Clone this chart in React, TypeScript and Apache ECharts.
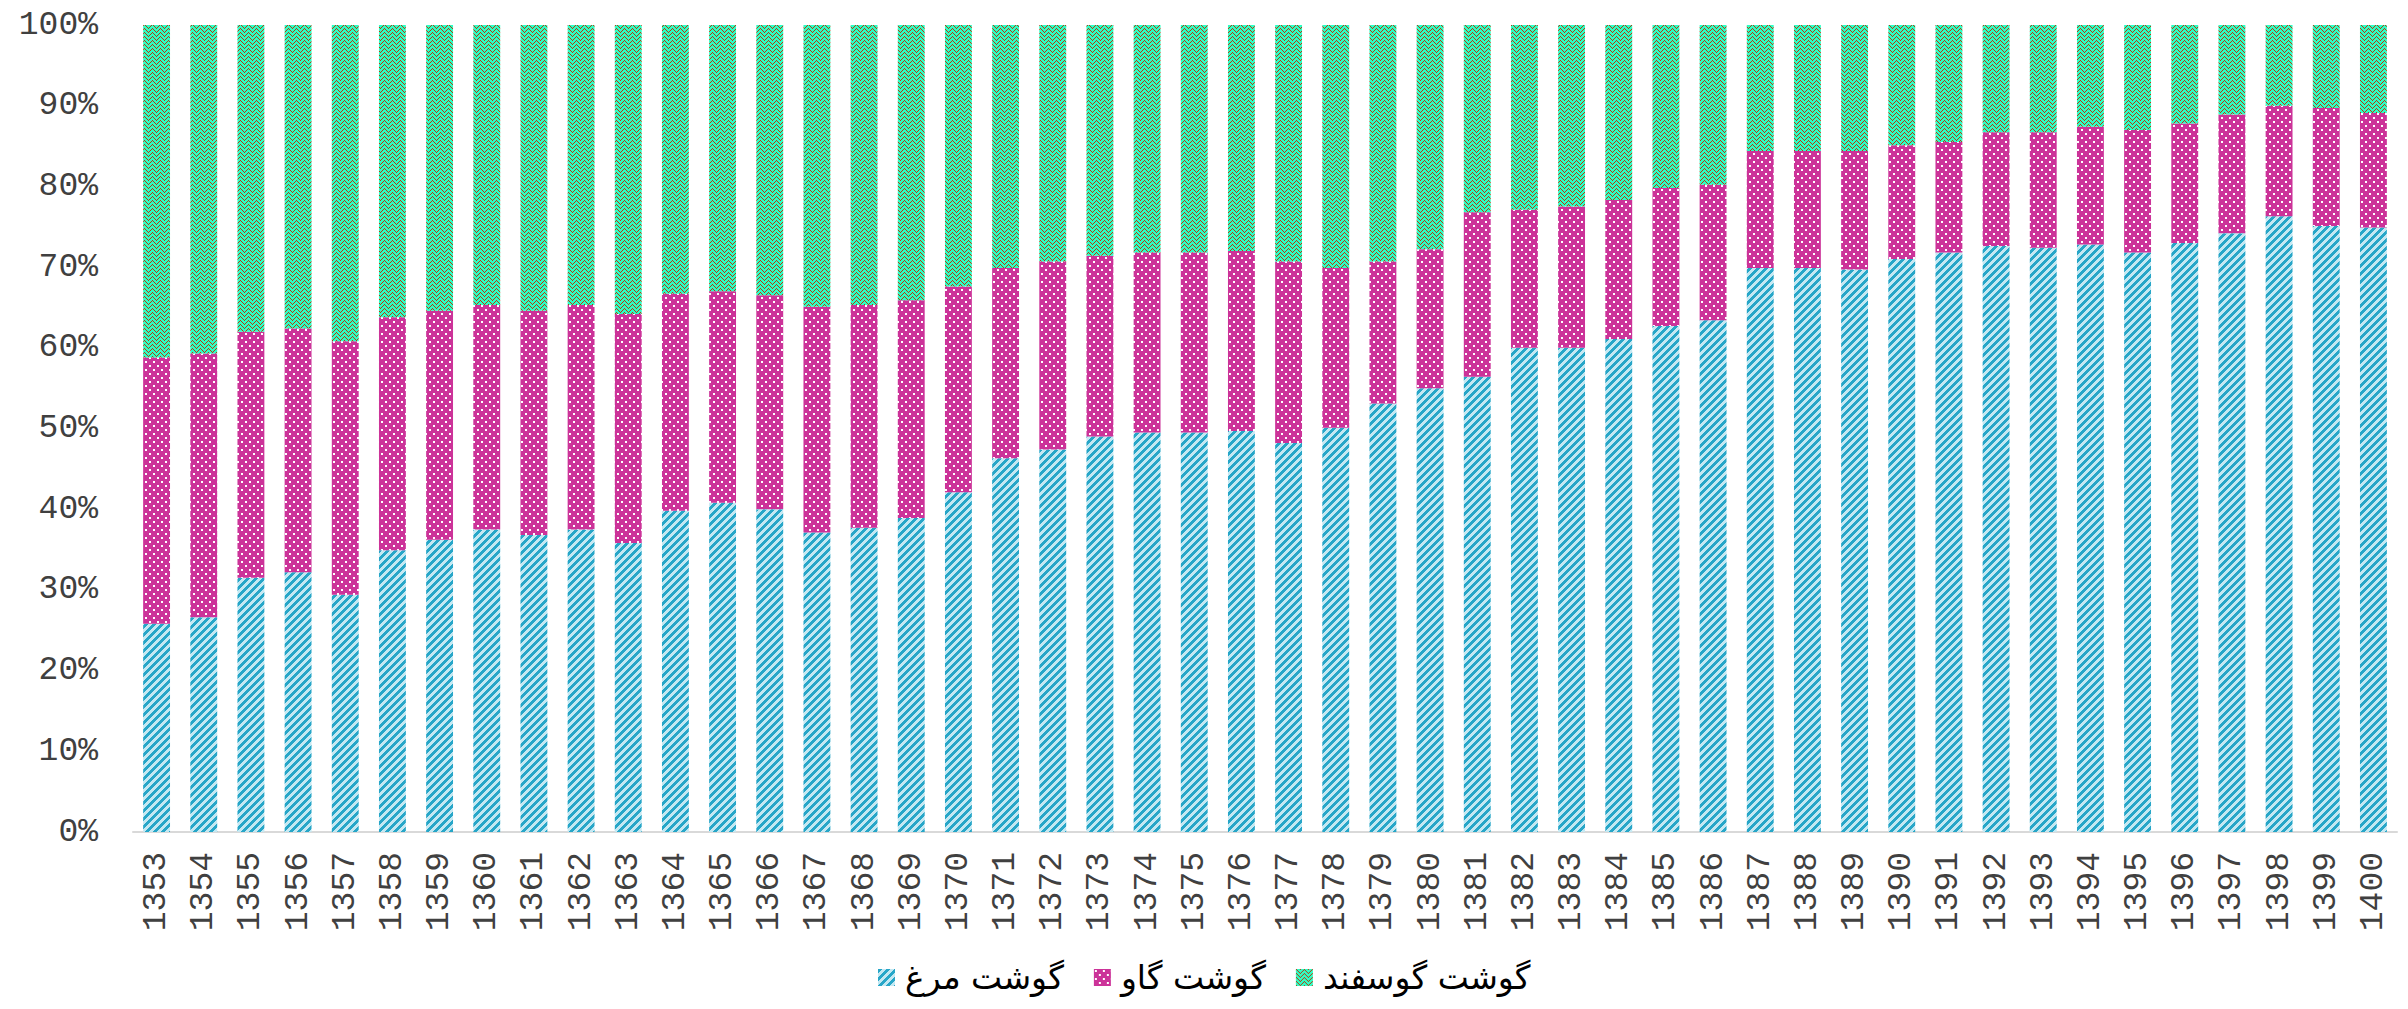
import React, { useEffect, useRef } from "react";
import * as echarts from "echarts";

const years = [
  "1353","1354","1355","1356","1357","1358","1359","1360","1361","1362","1363","1364",
  "1365","1366","1367","1368","1369","1370","1371","1372","1373","1374","1375","1376",
  "1377","1378","1379","1380","1381","1382","1383","1384","1385","1386","1387","1388",
  "1389","1390","1391","1392","1393","1394","1395","1396","1397","1398","1399","1400",
];

// share of chicken meat (%)
const chicken = [
  25.8, 26.6, 31.5, 32.2, 29.4, 34.9, 36.2, 37.5, 36.8, 37.5, 35.8, 39.8,
  40.8, 40.0, 37.1, 37.7, 38.9, 42.1, 46.3, 47.4, 49.0, 49.5, 49.5, 49.7,
  48.2, 50.1, 53.1, 55.0, 56.4, 60.0, 60.0, 61.1, 62.7, 63.4, 69.9, 69.9,
  69.7, 71.0, 71.8, 72.6, 72.4, 72.8, 71.8, 73.0, 74.2, 76.3, 75.1, 74.9,
];

// share of beef (%)
const beef = [
  33.0, 32.7, 30.5, 30.2, 31.4, 28.9, 28.4, 27.8, 27.8, 27.8, 28.4, 26.9,
  26.2, 26.5, 28.0, 27.6, 27.0, 25.5, 23.6, 23.3, 22.4, 22.3, 22.3, 22.3,
  22.5, 19.8, 17.6, 17.2, 20.4, 17.1, 17.5, 17.2, 17.1, 16.8, 14.5, 14.5,
  14.7, 14.1, 13.7, 14.1, 14.3, 14.6, 15.2, 14.8, 14.7, 13.7, 14.6, 14.2,
];

// share of mutton (%)
const mutton = chicken.map((c, i) => +(100 - c - beef[i]).toFixed(1));

const seriesNames = ["گوشت مرغ", "گوشت گاو", "گوشت گوسفند"];

function makeTile(size: number, bg: string, fg: string, fn: (x: number, y: number) => boolean) {
  const c = document.createElement("canvas");
  c.width = size;
  c.height = size;
  const ctx = c.getContext("2d")!;
  ctx.fillStyle = bg;
  ctx.fillRect(0, 0, size, size);
  ctx.fillStyle = fg;
  for (let y = 0; y < size; y++) {
    for (let x = 0; x < size; x++) {
      if (fn(x, y)) ctx.fillRect(x, y, 1, 1);
    }
  }
  return c;
}

export default function App() {
  const ref = useRef<HTMLDivElement>(null);

  useEffect(() => {
    document.body.style.margin = "0";
    const chart = echarts.init(ref.current!, undefined, { renderer: "svg" });

    const stripe = makeTile(8, "#C4E8F2", "#27A6C8", (x, y) => (x + y) % 8 < 4);
    const dots = makeTile(8, "#CC3399", "#FFFFFF", (x, y) =>
      ((x === 1 || x === 2) && (y === 1 || y === 2)) || ((x === 5 || x === 6) && (y === 5 || y === 6))
    );
    const zig = makeTile(8, "#2CFFC4", "#B23A10", (x, y) => {
      const z = x < 4 ? x : 8 - x;
      return y === z % 8 || (y === (z + 4) % 8 && (x + y) % 2 === 0);
    });

    const colors = [
      { image: stripe, repeat: "repeat" },
      { image: dots, repeat: "repeat" },
      { image: zig, repeat: "repeat" },
    ];
    const datas = [chicken, beef, mutton];

    const mono = "Liberation Mono";

    chart.setOption({
      animation: false,
      grid: { left: 133, right: 11, top: 25, bottom: 177, containLabel: false },
      legend: {
        data: seriesNames,
        bottom: 10,
        left: 873,
        itemWidth: 17,
        itemHeight: 17,
        itemGap: 30,
        icon: "rect",
        textStyle: { fontFamily: "DejaVu Sans", fontSize: 33, color: "#000", padding: [0, 0, 0, 5] },
      },
      xAxis: {
        type: "category",
        data: years,
        axisLine: { lineStyle: { color: "#D9D9D9", width: 2 } },
        axisTick: { show: false },
        axisLabel: {
          rotate: 90,
          interval: 0,
          margin: 20,
          fontFamily: mono,
          fontSize: 33,
          color: "#404040",
        },
      },
      yAxis: {
        type: "value",
        min: 0,
        max: 100,
        interval: 10,
        axisLine: { show: false },
        axisTick: { show: false },
        splitLine: { show: false },
        axisLabel: {
          formatter: "{value}%",
          margin: 35,
          fontFamily: mono,
          fontSize: 33,
          color: "#404040",
        },
      },
      series: seriesNames.map((name, i) => ({
        name,
        type: "bar",
        stack: "total",
        barCategoryGap: "43%",
        data: datas[i],
        itemStyle: { color: colors[i] },
      })),
    });

    return () => chart.dispose();
  }, []);

  return <div ref={ref} style={{ width: 2408, height: 1009 }} />;
}
